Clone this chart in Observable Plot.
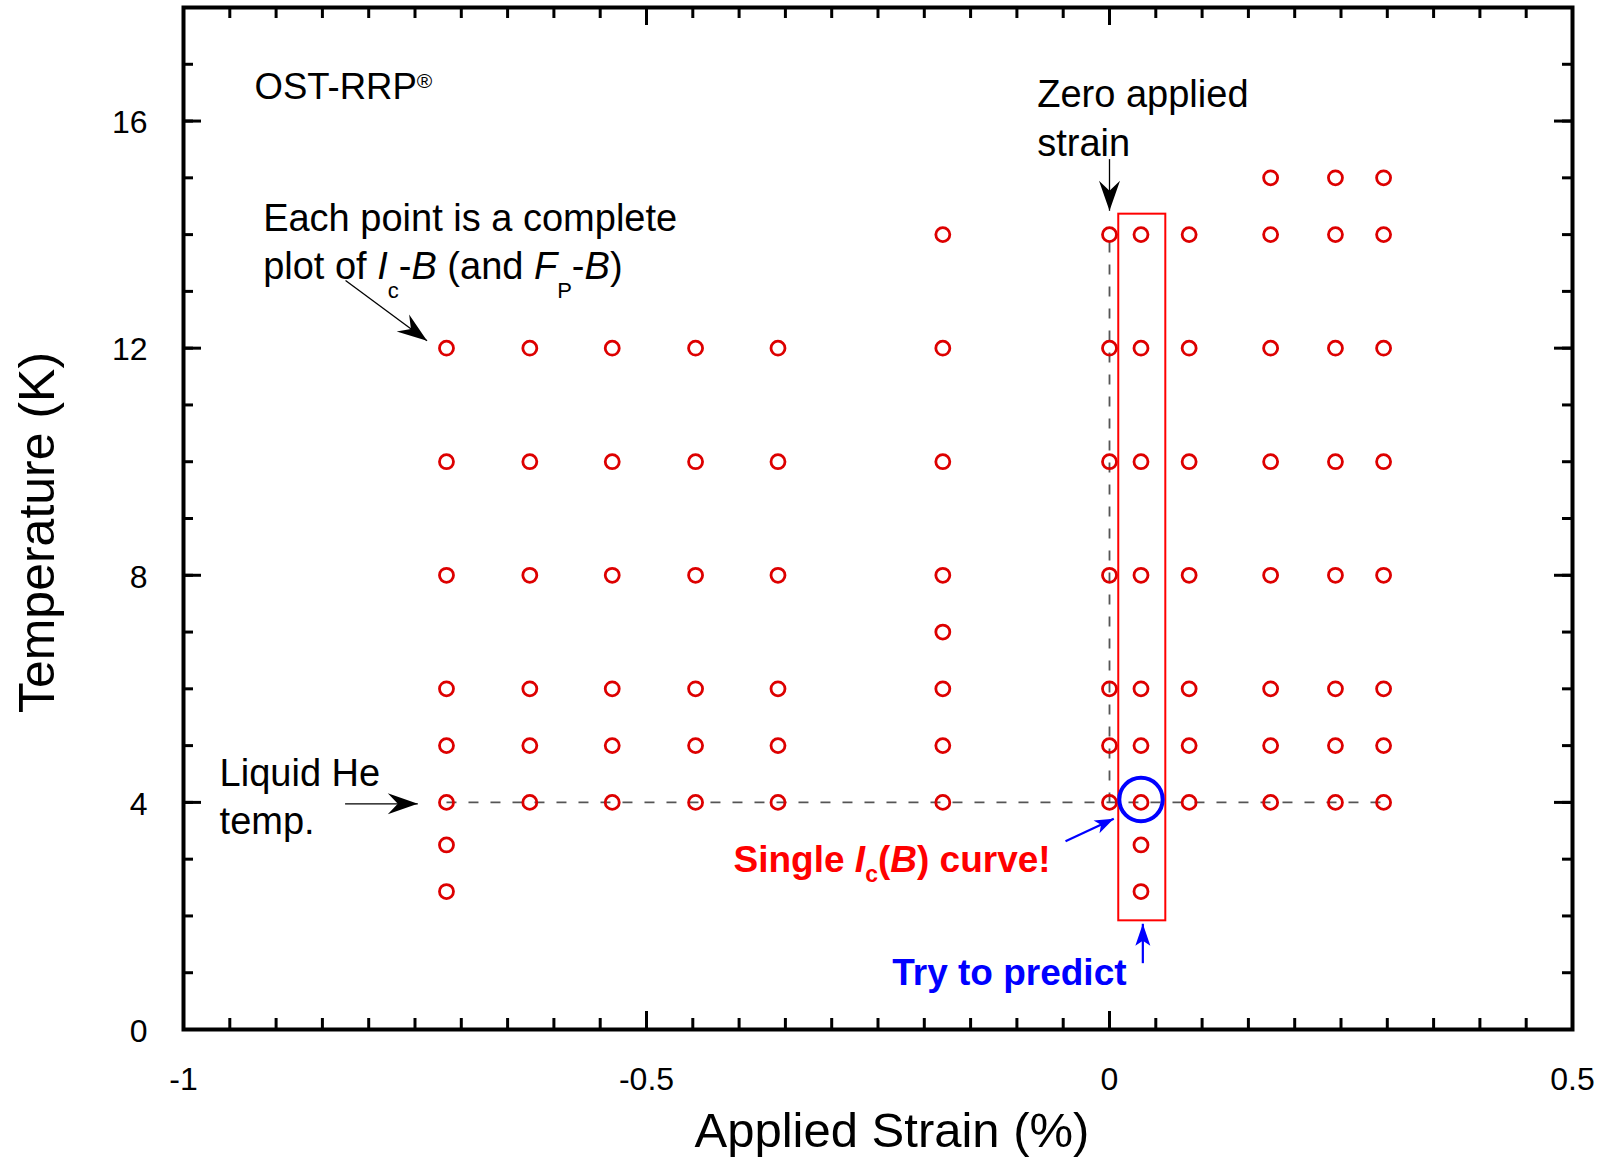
<!DOCTYPE html>
<html>
<head>
<meta charset="utf-8">
<script src="https://cdn.jsdelivr.net/npm/d3@7"></script>
<script src="https://cdn.jsdelivr.net/npm/@observablehq/plot@0.6"></script>
<style>
html, body { margin: 0; padding: 0; background: #fff; overflow: hidden; }
#chart svg { display: block; }
</style>
</head>
<body>
<div id="chart"></div>
<script>
// ---------- data ----------
const strainColumns = [-0.716, -0.626, -0.537, -0.447, -0.358, -0.180, 0, 0.034, 0.086, 0.174, 0.244, 0.296];
const temperatureColumns = [
  [12, 10, 8, 6, 5, 4, 3.25, 2.43],
  [12, 10, 8, 6, 5, 4],
  [12, 10, 8, 6, 5, 4],
  [12, 10, 8, 6, 5, 4],
  [12, 10, 8, 6, 5, 4],
  [14, 12, 10, 8, 7, 6, 5, 4],
  [14, 12, 10, 8, 6, 5, 4],
  [14, 12, 10, 8, 6, 5, 4, 3.25, 2.43],
  [14, 12, 10, 8, 6, 5, 4],
  [15, 14, 12, 10, 8, 6, 5, 4],
  [15, 14, 12, 10, 8, 6, 5, 4],
  [15, 14, 12, 10, 8, 6, 5, 4]
];
const xTickLabels = [-1, -0.5, 0, 0.5];
const yTickLabels = [0, 4, 8, 12, 16];
const xTitle = "Applied Strain (%)";
const yTitle = "Temperature (K)";

// annotations (data coordinates)
const guideLines = [
  {x1: -0.716, y1: 4, x2: 0.296, y2: 4},
  {x1: 0, y1: 4, x2: 0, y2: 14}
];
const highlightBox = [{x1: 0.010, x2: 0.0608, y1: 1.914, y2: 14.36}];
const highlightPoint = [{x: 0.034, y: 4.05}];
const blackNotes = [
  {text: "Each point is a complete", x: -0.914, y: 14.07},
  {text: "plot of Ic-B (and FP-B)", x: -0.914, y: 13.22},
  {text: "Zero applied", x: -0.078, y: 16.24},
  {text: "strain", x: -0.078, y: 15.38},
  {text: "Liquid He", x: -0.961, y: 4.28},
  {text: "temp.", x: -0.961, y: 3.447}
];
const brandNote = [{text: "OST-RRP®", x: -0.9233, y: 16.38}];
const redNote = [{text: "Single Ic(B) curve!", x: -0.406, y: 2.77}];
const blueNote = [{text: "Try to predict", x: -0.2347, y: 0.775}];
const blackArrows = [
  {x1: 0, y1: 15.33, x2: 0, y2: 14.42},
  {x1: -0.825, y1: 13.19, x2: -0.737, y2: 12.13},
  {x1: -0.8255, y1: 3.975, x2: -0.747, y2: 3.975}
];
const blueArrowSingle = [{x1: -0.0475, y1: 3.316, x2: 0.0046, y2: 3.71}];
const blueArrowPredict = [{x1: 0.036, y1: 1.168, x2: 0.036, y2: 1.862}];

// ---------- layout ----------
const W = 1608, H = 1159;
const M = {top: 7, right: 36, bottom: 130, left: 183};
const plotW = W - M.left - M.right, plotH = H - M.top - M.bottom;
const FONT = "Arial, 'Liberation Sans', Helvetica, sans-serif";

const points = strainColumns.flatMap((s, i) => temperatureColumns[i].map(t => ({strain: s, temp: t})));

const xMinor = d3.range(-1, 0.5001, 0.05);
const yMinor = d3.range(0, 18.001, 1);

function stealth(len, halfW, notch) {
  return (color, context) => {
    const doc = (context && context.document) || document;
    const ns = "http://www.w3.org/2000/svg";
    const m = doc.createElementNS(ns, "marker");
    m.setAttribute("viewBox", `${-len - 2} ${-halfW - 2} ${len + 4} ${2 * halfW + 4}`);
    m.setAttribute("markerWidth", len + 4);
    m.setAttribute("markerHeight", 2 * halfW + 4);
    m.setAttribute("markerUnits", "userSpaceOnUse");
    m.setAttribute("orient", "auto");
    m.setAttribute("refX", 0);
    m.setAttribute("refY", 0);
    const p = doc.createElementNS(ns, "path");
    p.setAttribute("d", `M0,0L${-len},${-halfW}L${-len + notch},0L${-len},${halfW}Z`);
    p.setAttribute("fill", color);
    p.setAttribute("stroke", "none");
    m.appendChild(p);
    return m;
  };
}

function build(useCustom) {
  const mk = (len, hw, notch) => useCustom ? stealth(len, hw, notch) : "arrow";
  const tickRuleY = (vals, len, side) => Plot.ruleY(vals, side === "left"
    ? {insetRight: plotW - len, strokeWidth: 3, stroke: "black"}
    : {insetLeft: plotW - len, strokeWidth: 3, stroke: "black"});
  const tickRuleX = (vals, len, side) => Plot.ruleX(vals, side === "bottom"
    ? {insetTop: plotH - len, strokeWidth: 3, stroke: "black"}
    : {insetBottom: plotH - len, strokeWidth: 3, stroke: "black"});
  return Plot.plot({
    width: W,
    height: H,
    marginTop: M.top,
    marginRight: M.right,
    marginBottom: M.bottom,
    marginLeft: M.left,
    style: {fontFamily: FONT, background: "white", color: "black"},
    x: {domain: [-1, 0.5], label: null},
    y: {domain: [0, 18], label: null},
    marks: [
      Plot.link(guideLines, {x1: "x1", y1: "y1", x2: "x2", y2: "y2", stroke: "#555", strokeWidth: 1.8, strokeDasharray: "10,12"}),
      Plot.rect(highlightBox, {x1: "x1", x2: "x2", y1: "y1", y2: "y2", fill: "none", stroke: "#ff0000", strokeWidth: 2}),
      Plot.dot(points, {x: "strain", y: "temp", r: 7, stroke: "#dd0000", strokeWidth: 2.8, fill: "none"}),
      Plot.dot(highlightPoint, {x: "x", y: "y", r: 21.7, stroke: "#0000ff", strokeWidth: 4, fill: "none"}),
      Plot.link(blackArrows, {x1: "x1", y1: "y1", x2: "x2", y2: "y2", stroke: "black", strokeWidth: 1.3, markerEnd: mk(30, 10.5, 10)}),
      Plot.link(blueArrowSingle, {x1: "x1", y1: "y1", x2: "x2", y2: "y2", stroke: "#0000ff", strokeWidth: 2.2, markerEnd: mk(19, 7, 5)}),
      Plot.link(blueArrowPredict, {x1: "x1", y1: "y1", x2: "x2", y2: "y2", stroke: "#0000ff", strokeWidth: 2.2, markerEnd: mk(22, 7.5, 5)}),
      Plot.text(blackNotes, {x: "x", y: "y", text: "text", textAnchor: "start", lineAnchor: "bottom", fontSize: 38, fill: "black"}),
      Plot.text(brandNote, {x: "x", y: "y", text: "text", textAnchor: "start", lineAnchor: "bottom", fontSize: 36.5, fill: "black"}),
      Plot.text(redNote, {x: "x", y: "y", text: "text", textAnchor: "start", lineAnchor: "bottom", fontSize: 37, fontWeight: "bold", fill: "#ff0000"}),
      Plot.text(blueNote, {x: "x", y: "y", text: "text", textAnchor: "start", lineAnchor: "bottom", fontSize: 37, fontWeight: "bold", fill: "#0000ff"}),
      tickRuleY(yMinor, 10, "left"),
      tickRuleY(yMinor, 10, "right"),
      tickRuleY(yTickLabels, 18, "left"),
      tickRuleY(yTickLabels, 18, "right"),
      tickRuleX(xMinor, 11, "bottom"),
      tickRuleX(xMinor, 11, "top"),
      tickRuleX(xTickLabels, 18, "bottom"),
      tickRuleX(xTickLabels, 18, "top"),
      Plot.frame({stroke: "black", strokeWidth: 4}),
      Plot.axisX({ticks: xTickLabels, tickSize: 0, tickPadding: 38, fontSize: 32, label: null, tickFormat: d => String(d)}),
      Plot.axisY({ticks: yTickLabels, tickSize: 0, tickPadding: 36, fontSize: 32, label: null, tickFormat: d => String(d), dy: 2}),
      Plot.text([xTitle], {frameAnchor: "bottom", textAnchor: "middle", dx: 14, dy: 117, lineAnchor: "bottom", fontSize: 49, fill: "black"}),
      Plot.text([yTitle], {frameAnchor: "left", textAnchor: "middle", rotate: -90, dx: -130, dy: 14, lineAnchor: "bottom", fontSize: 50, fill: "black"})
    ]
  });
}

let chart;
try {
  chart = build(true);
} catch (e) {
  chart = build(false);
}

// rich text: subscripts, italics, superscript
const rich = {
  "OST-RRP®": [{t: "OST-RRP"}, {t: "®", size: 21, dy: -11}],
  "plot of Ic-B (and FP-B)": [
    {t: "plot of "}, {t: "I", it: true}, {t: "c", size: 22, dy: 19}, {t: "-", dy: -19},
    {t: "B", it: true}, {t: " (and "}, {t: "F", it: true}, {t: "P", size: 22, dy: 19},
    {t: "-", dy: -19}, {t: "B", it: true}, {t: ")"}
  ],
  "Single Ic(B) curve!": [
    {t: "Single "}, {t: "I", it: true}, {t: "c", size: 23, dy: 10}, {t: "(", dy: -10},
    {t: "B", it: true}, {t: ") curve!"}
  ]
};
const ns = "http://www.w3.org/2000/svg";
chart.querySelectorAll("text").forEach(el => {
  const spec = rich[el.textContent];
  if (!spec) return;
  el.textContent = "";
  for (const s of spec) {
    const ts = document.createElementNS(ns, "tspan");
    ts.textContent = s.t;
    if (s.it) ts.setAttribute("font-style", "italic");
    if (s.size) ts.setAttribute("font-size", s.size);
    if (s.dy) ts.setAttribute("dy", s.dy);
    el.appendChild(ts);
  }
});

document.getElementById("chart").appendChild(chart);
</script>
</body>
</html>
